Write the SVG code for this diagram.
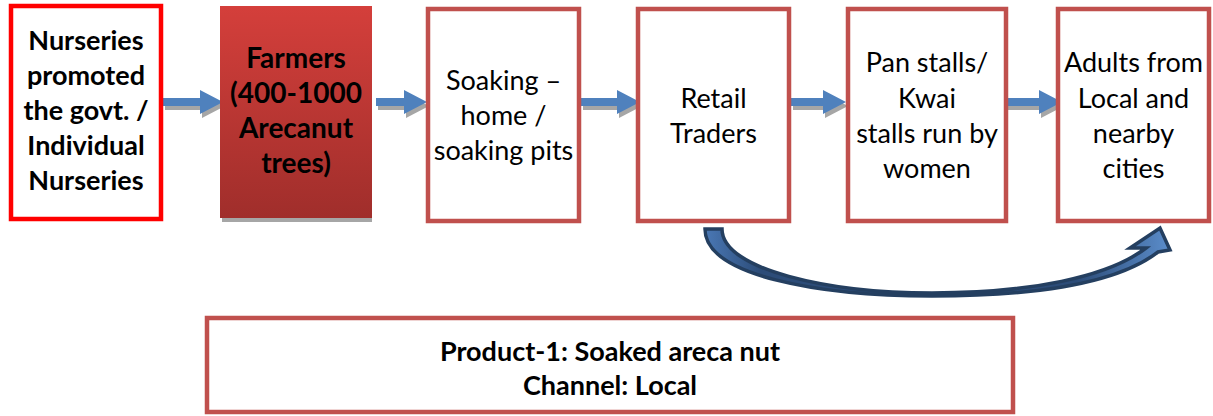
<svg xmlns="http://www.w3.org/2000/svg" width="1213" height="416" viewBox="0 0 1213 416">
<style>
.box{fill:#fff;stroke:#C0504D;stroke-width:4.5}
.t{font-family:Lato,"Liberation Sans",sans-serif;font-size:27px;fill:#000;text-anchor:middle}
.b{font-weight:bold}
.arr{fill:#4F81BD}
.sh{fill:#A6A6A6}
</style>
<defs>
<linearGradient id="red" x1="0" y1="0" x2="0" y2="1">
<stop offset="0" stop-color="#D43F3B"/>
<stop offset="1" stop-color="#A02E2B"/>
</linearGradient>
<linearGradient id="blu" x1="0" y1="0" x2="1" y2="0">
<stop offset="0" stop-color="#4A78B5"/>
<stop offset="0.12" stop-color="#2C4C78"/>
<stop offset="0.8" stop-color="#2C4C78"/>
<stop offset="1" stop-color="#5B8DCB"/>
</linearGradient>
</defs>
<g id="connectors">
<g transform="translate(163,102)"><path class="sh" transform="translate(2,4)" d="M0,-4H37V-12L60,0L37,12V4H0Z"/><path class="arr" d="M0,-4H37V-12L60,0L37,12V4H0Z"/></g>
<g transform="translate(376,102)"><path class="sh" transform="translate(2,4)" d="M0,-4H28V-12L51,0L28,12V4H0Z"/><path class="arr" d="M0,-4H28V-12L51,0L28,12V4H0Z"/></g>
<g transform="translate(581,102)"><path class="sh" transform="translate(2,4)" d="M0,-4H36V-12L59,0L36,12V4H0Z"/><path class="arr" d="M0,-4H36V-12L59,0L36,12V4H0Z"/></g>
<g transform="translate(791,102)"><path class="sh" transform="translate(2,4)" d="M0,-4H32V-12L55,0L32,12V4H0Z"/><path class="arr" d="M0,-4H32V-12L55,0L32,12V4H0Z"/></g>
<g transform="translate(1006,102)"><path class="sh" transform="translate(2,4)" d="M0,-4H33V-12L56,0L33,12V4H0Z"/><path class="arr" d="M0,-4H33V-12L56,0L33,12V4H0Z"/></g>
<path d="M705,229 C705,276 820,296 932,296 C1040,296 1118,283 1158,252 L1170,250 L1160,228 L1130,248 L1146,248 C1108,277 1030,293 932,293 C830,293 722,270 722,229 Z" fill="url(#blu)" stroke="#243F60" stroke-width="3.5" stroke-linejoin="miter"/>
</g>
<g id="n1">
<rect x="11" y="6" width="150" height="213" fill="#fff" stroke="#FF0000" stroke-width="4.5"/>
<text class="t b"><tspan x="86" y="50">Nurseries</tspan><tspan x="86" y="85">promoted</tspan><tspan x="86" y="120">the govt. /</tspan><tspan x="86" y="155">Individual</tspan><tspan x="86" y="190">Nurseries</tspan></text>
</g>
<g id="n2">
<rect x="222" y="9" width="150" height="213" fill="#A6A6A6"/>
<rect x="220" y="6" width="152" height="212" fill="url(#red)"/>
<text class="t b" style="font-size:28px"><tspan x="296" y="68">Farmers</tspan><tspan x="296" y="103">(400-1000</tspan><tspan x="296" y="138">Arecanut</tspan><tspan x="296" y="173">trees)</tspan></text>
</g>
<g id="n3">
<rect class="box" x="428" y="9" width="151" height="212"/>
<text class="t"><tspan x="503.5" y="90">Soaking –</tspan><tspan x="503.5" y="125">home /</tspan><tspan x="503.5" y="160">soaking pits</tspan></text>
</g>
<g id="n4">
<rect class="box" x="638" y="9" width="151" height="212"/>
<text class="t"><tspan x="713.5" y="108">Retail</tspan><tspan x="713.5" y="143">Traders</tspan></text>
</g>
<g id="n5">
<rect class="box" x="848" y="9" width="158" height="212"/>
<text class="t"><tspan x="927" y="72">Pan stalls/</tspan><tspan x="927" y="108">Kwai</tspan><tspan x="927" y="143">stalls run by</tspan><tspan x="927" y="178">women</tspan></text>
</g>
<g id="n6">
<rect class="box" x="1058" y="9" width="151" height="212"/>
<text class="t"><tspan x="1133.5" y="72">Adults from</tspan><tspan x="1133.5" y="108">Local and</tspan><tspan x="1133.5" y="143">nearby</tspan><tspan x="1133.5" y="178">cities</tspan></text>
</g>
<g id="n7">
<rect class="box" x="207" y="318" width="806" height="94"/>
<text class="t b" style="font-size:27px"><tspan x="610" y="361">Product-1: Soaked areca nut</tspan><tspan x="610" y="395">Channel: Local</tspan></text>
</g>
</svg>
